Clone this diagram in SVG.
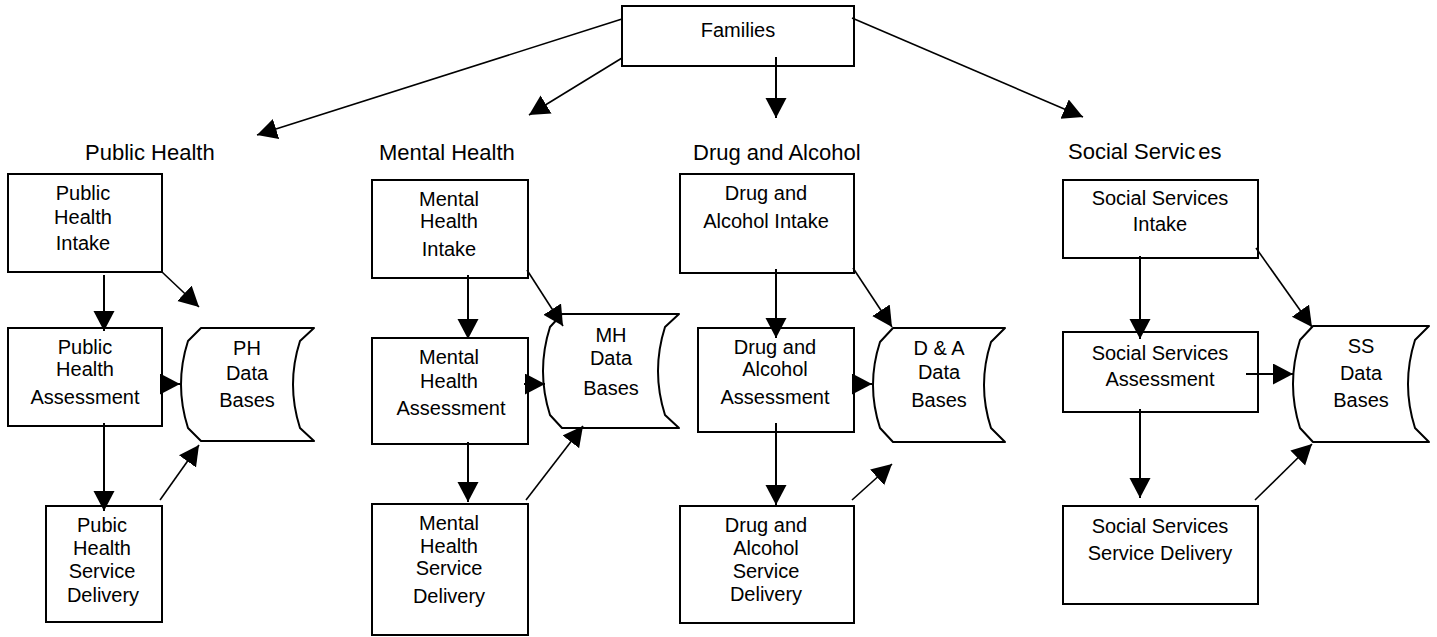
<svg xmlns="http://www.w3.org/2000/svg" width="1437" height="637" viewBox="0 0 1437 637">
<style>
.box{fill:#fff;stroke:#000;stroke-width:2}
.db{fill:#fff;stroke:#000;stroke-width:2;stroke-linejoin:round}
text{font-family:"Liberation Sans",Arial,sans-serif;fill:#000}
.t{font-size:20px;text-anchor:middle}
.h{font-size:22px}
.c{fill:none;stroke:#000;stroke-width:2}
.d{fill:none;stroke:#000;stroke-width:1.6}
</style>
<defs>
<marker id="ah" markerUnits="userSpaceOnUse" markerWidth="22" markerHeight="22" refX="20" refY="10.5" orient="auto">
<path d="M0,0 L20,10.5 L0,21 z" fill="#000"/>
</marker>
</defs>
<rect width="1437" height="637" fill="#fff"/>

<g id="families">
<rect class="box" x="622" y="6" width="232" height="60"/>
<text class="t" x="738" y="37">Families</text>
</g>

<g id="headers">
<text class="h" x="85" y="160">Public Health</text>
<text class="h" x="379" y="160">Mental Health</text>
<text class="h" x="693" y="160">Drug and Alcohol</text>
<text class="h" x="1068" y="159">Social Servic<tspan dx="3">es</tspan></text>
</g>

<g id="ph-intake">
<rect class="box" x="8" y="174" width="154" height="98"/>
<text class="t" x="83" y="200">Public</text>
<text class="t" x="83" y="224">Health</text>
<text class="t" x="83" y="250">Intake</text>
</g>
<g id="ph-assessment">
<rect class="box" x="8" y="328" width="154" height="98"/>
<text class="t" x="85" y="354">Public</text>
<text class="t" x="85" y="376">Health</text>
<text class="t" x="85" y="404">Assessment</text>
</g>
<g id="ph-delivery">
<rect class="box" x="46" y="506" width="116" height="116"/>
<text class="t" x="102" y="532">Pubic</text>
<text class="t" x="102" y="555">Health</text>
<text class="t" x="102" y="578">Service</text>
<text class="t" x="103" y="602">Delivery</text>
</g>
<g id="ph-db">
<path class="db" d="M201,328 L292,328 L306,328 L314,328 L300,341 Q286,384.5 300,428 L314,441 L201,441 L188,428 Q174,384.5 188,341 Z"/>
<text class="t" x="247" y="355">PH</text>
<text class="t" x="247" y="380">Data</text>
<text class="t" x="247" y="407">Bases</text>
</g>

<g id="mh-intake">
<rect class="box" x="372" y="180" width="156" height="98"/>
<text class="t" x="449" y="206">Mental</text>
<text class="t" x="449" y="228">Health</text>
<text class="t" x="449" y="256">Intake</text>
</g>
<g id="mh-assessment">
<rect class="box" x="372" y="338" width="156" height="106"/>
<text class="t" x="449" y="364">Mental</text>
<text class="t" x="449" y="388">Health</text>
<text class="t" x="451" y="415">Assessment</text>
</g>
<g id="mh-delivery">
<rect class="box" x="372" y="504" width="156" height="131"/>
<text class="t" x="449" y="530">Mental</text>
<text class="t" x="449" y="553">Health</text>
<text class="t" x="449" y="575">Service</text>
<text class="t" x="449" y="603">Delivery</text>
</g>
<g id="mh-db">
<path class="db" d="M562,314 L679,314 L665,327 Q651,371 665,415 L679,428 L562,428 L550,415 Q536,371 550,327 Z"/>
<text class="t" x="611" y="342">MH</text>
<text class="t" x="611" y="365">Data</text>
<text class="t" x="611" y="395">Bases</text>
</g>

<g id="da-intake">
<rect class="box" x="680" y="174" width="174" height="99"/>
<text class="t" x="766" y="200">Drug and</text>
<text class="t" x="766" y="228">Alcohol Intake</text>
</g>
<g id="da-assessment">
<rect class="box" x="698" y="328" width="156" height="104"/>
<text class="t" x="775" y="354">Drug and</text>
<text class="t" x="775" y="376">Alcohol</text>
<text class="t" x="775" y="404">Assessment</text>
</g>
<g id="da-delivery">
<rect class="box" x="680" y="506" width="174" height="117"/>
<text class="t" x="766" y="532">Drug and</text>
<text class="t" x="766" y="555">Alcohol</text>
<text class="t" x="766" y="578">Service</text>
<text class="t" x="766" y="601">Delivery</text>
</g>
<g id="da-db">
<path class="db" d="M893,328 L1005,328 L991,342 Q977,385 991,428 L1005,442 L893,442 L880,428 Q866,385 880,342 Z"/>
<text class="t" x="939" y="355">D &amp; A</text>
<text class="t" x="939" y="379">Data</text>
<text class="t" x="939" y="407">Bases</text>
</g>

<g id="ss-intake">
<rect class="box" x="1063" y="180" width="195" height="78"/>
<text class="t" x="1160" y="205">Social Services</text>
<text class="t" x="1160" y="231">Intake</text>
</g>
<g id="ss-assessment">
<rect class="box" x="1063" y="332" width="195" height="80"/>
<text class="t" x="1160" y="360">Social Services</text>
<text class="t" x="1160" y="386">Assessment</text>
</g>
<g id="ss-delivery">
<rect class="box" x="1063" y="506" width="195" height="98"/>
<text class="t" x="1160" y="533">Social Services</text>
<text class="t" x="1160" y="560">Service Delivery</text>
</g>
<g id="ss-db">
<path class="db" d="M1313,326 L1429,326 L1415,340 Q1401,384 1415,428 L1429,442 L1313,442 L1300,428 Q1286,384 1300,340 Z"/>
<text class="t" x="1361" y="353">SS</text>
<text class="t" x="1361" y="380">Data</text>
<text class="t" x="1361" y="407">Bases</text>
</g>

<g id="connectors" marker-end="url(#ah)">
<line class="d" x1="622" y1="19" x2="257" y2="135" marker-end="url(#ah)"/>
<line class="d" x1="622" y1="58" x2="529" y2="115" marker-end="url(#ah)"/>
<line class="c" x1="776" y1="57" x2="776" y2="118" marker-end="url(#ah)"/>
<line class="d" x1="852" y1="18" x2="1083" y2="117" marker-end="url(#ah)"/>

<line class="c" x1="104" y1="275" x2="104" y2="331" marker-end="url(#ah)"/>
<line class="d" x1="162" y1="272" x2="199" y2="307" marker-end="url(#ah)"/>
<line class="c" x1="160" y1="384" x2="180" y2="384" marker-end="url(#ah)"/>
<line class="c" x1="104" y1="423" x2="104" y2="511" marker-end="url(#ah)"/>
<line class="d" x1="160" y1="500" x2="199" y2="445" marker-end="url(#ah)"/>

<line class="c" x1="468" y1="275" x2="468" y2="339" marker-end="url(#ah)"/>
<line class="d" x1="527" y1="270" x2="563" y2="326" marker-end="url(#ah)"/>
<line class="c" x1="524" y1="384" x2="545" y2="384" marker-end="url(#ah)"/>
<line class="c" x1="468" y1="442" x2="468" y2="502" marker-end="url(#ah)"/>
<line class="d" x1="526" y1="500" x2="583" y2="426" marker-end="url(#ah)"/>

<line class="c" x1="776" y1="269" x2="776" y2="338" marker-end="url(#ah)"/>
<line class="d" x1="853" y1="268" x2="892" y2="327" marker-end="url(#ah)"/>
<line class="c" x1="852" y1="384" x2="872" y2="384" marker-end="url(#ah)"/>
<line class="c" x1="776" y1="423" x2="776" y2="505" marker-end="url(#ah)"/>
<line class="d" x1="852" y1="500" x2="892" y2="464" marker-end="url(#ah)"/>

<line class="c" x1="1140" y1="256" x2="1140" y2="339" marker-end="url(#ah)"/>
<line class="d" x1="1256" y1="248" x2="1312" y2="327" marker-end="url(#ah)"/>
<line class="c" x1="1246" y1="374" x2="1293" y2="374" marker-end="url(#ah)"/>
<line class="c" x1="1140" y1="409" x2="1140" y2="498" marker-end="url(#ah)"/>
<line class="d" x1="1255" y1="500" x2="1312" y2="444" marker-end="url(#ah)"/>
</g>
</svg>
